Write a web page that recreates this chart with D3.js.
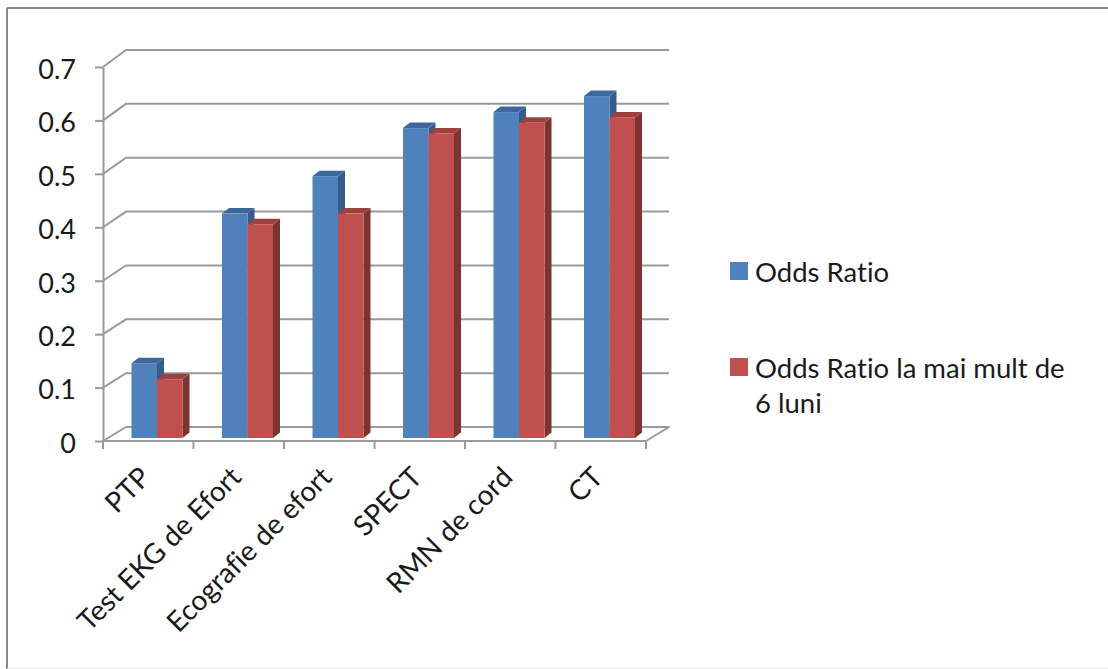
<!DOCTYPE html>
<html>
<head>
<meta charset="utf-8">
<script src="https://cdn.jsdelivr.net/npm/d3@7"></script>
<style>
  html, body { margin: 0; padding: 0; background: #fff; }
  svg { display: block; font-family: Lato, "Open Sans", sans-serif; font-variant-ligatures: none; }
</style>
</head>
<body>
<svg id="chart" width="1108" height="669"></svg>
<script>
// Categories (diagnostic tests) and the two Odds Ratio series
const categories = ["PTP", "Test EKG de Efort", "Ecografie de efort", "SPECT", "RMN de cord", "CT"];
const oddsRatio = [0.14, 0.42, 0.49, 0.58, 0.61, 0.64];
const oddsRatio6Luni = [0.11, 0.40, 0.42, 0.57, 0.59, 0.60];
const seriesNames = ["Odds Ratio", "Odds Ratio la mai mult de 6 luni"];
const yTicks = [0, 0.1, 0.2, 0.3, 0.4, 0.5, 0.6, 0.7];

const colors = [
  { front: "#4F81BD", side: "#365C8B", top: "#3E689C" },
  { front: "#C0504D", side: "#7E3331", top: "#9E403D" }
];
const gridColor = "#9a9a9a";
const textColor = "#1a1a1a";

const svg = d3.select("#chart");

// Front plane scales
const y = d3.scaleLinear().domain([0, 0.7]).range([441, 67]);
// Back wall: same values, pushed back in depth
const yBack = d3.scaleLinear().domain([0, 0.7]).range([427, 50]);
const depthX = 23;
const x = d3.scaleBand().domain(categories).range([103, 646]);
const xSeries = d3.scaleBand().domain([0, 1]).range([24.5, 75.5]);

// Bars sit slightly behind the front plane and have their own depth
const barShift = { dx: 4, dy: -3 };
const barDepth = { dx: 7, dy: -5.5 };

// Outer chart border
svg.append("line").attr("x1", 7).attr("y1", 8).attr("x2", 1108).attr("y2", 8)
  .attr("stroke", "#878787").attr("stroke-width", 2);
svg.append("line").attr("x1", 7).attr("y1", 8).attr("x2", 7).attr("y2", 669)
  .attr("stroke", "#878787").attr("stroke-width", 2);
svg.append("line").attr("x1", 7).attr("y1", 668.5).attr("x2", 1108).attr("y2", 668.5)
  .attr("stroke", "#e6e6e6").attr("stroke-width", 1);

const grid = svg.append("g").attr("fill", "none").attr("stroke", gridColor).attr("stroke-width", 2);

// Floor
const x0 = x.range()[0], x1 = x.range()[1];
grid.append("path")
  .attr("d", `M${x0},${y(0)}L${x1},${y(0)}L${x1 + depthX},${yBack(0)}L${x0 + depthX},${yBack(0)}Z`)
  .attr("stroke-linejoin", "round");

// Side-wall diagonals and back-wall gridlines
yTicks.filter(v => v > 0).forEach(v => {
  grid.append("path")
    .attr("d", `M${x0},${y(v)}L${x0 + depthX},${yBack(v)}L${x1 + depthX},${yBack(v)}`);
});

// Value axis
const yAxis = d3.axisLeft(y)
  .tickValues(yTicks)
  .tickSize(8)
  .tickSizeOuter(0)
  .tickPadding(19)
  .tickFormat(d => d === 0 ? "0" : d.toFixed(1));
const yg = svg.append("g").attr("transform", `translate(${x0},0)`).call(yAxis);
yg.select(".domain").attr("stroke", gridColor).attr("stroke-width", 2);
yg.selectAll(".tick line").attr("stroke", gridColor).attr("stroke-width", 2);
yg.selectAll(".tick text")
  .attr("font-family", "Lato, sans-serif")
  .attr("font-size", 27)
  .attr("fill", textColor)
  .attr("dy", "0.42em");

// Category boundary ticks on the floor edge
const bounds = categories.map(c => x(c)).concat([x1]);
svg.append("g").selectAll("line").data(bounds).join("line")
  .attr("x1", d => d).attr("x2", d => d)
  .attr("y1", y(0)).attr("y2", y(0) + 8)
  .attr("stroke", gridColor).attr("stroke-width", 2);

// 3D bars
const barsG = svg.append("g");
categories.forEach((c, i) => {
  [oddsRatio[i], oddsRatio6Luni[i]].forEach((v, s) => {
    const col = colors[s];
    const bx = x(c) + xSeries(s) + barShift.dx;
    const bw = xSeries.bandwidth();
    const by = y(v) + barShift.dy;
    const bb = y(0) + barShift.dy;
    const g = barsG.append("g");
    // side face
    g.append("path")
      .attr("d", `M${bx + bw},${by}L${bx + bw + barDepth.dx},${by + barDepth.dy}L${bx + bw + barDepth.dx},${bb + barDepth.dy}L${bx + bw},${bb}Z`)
      .attr("fill", col.side);
    // top face
    g.append("path")
      .attr("d", `M${bx},${by}L${bx + barDepth.dx},${by + barDepth.dy}L${bx + bw + barDepth.dx},${by + barDepth.dy}L${bx + bw},${by}Z`)
      .attr("fill", col.top);
    // front face
    g.append("rect")
      .attr("x", bx).attr("y", by)
      .attr("width", bw).attr("height", bb - by)
      .attr("fill", col.front);
  });
});

// Rotated category labels
svg.append("g").selectAll("text").data(categories).join("text")
  .attr("transform", d => `translate(${x(d) + x.bandwidth() / 2 + 4},${y(0) + 38}) rotate(-45)`)
  .attr("text-anchor", "end")
  .attr("font-size", 28)
  .attr("fill", textColor)
  .text(d => d);

// Legend
const legend = svg.append("g");
const legendRows = [
  { y: 262, lines: ["Odds Ratio"] },
  { y: 358, lines: ["Odds Ratio la mai mult de", "6 luni"] }
];
legendRows.forEach((r, i) => {
  legend.append("rect").attr("x", 730).attr("y", r.y).attr("width", 18).attr("height", 18)
    .attr("fill", colors[i].front);
  const t = legend.append("text").attr("x", 755).attr("y", r.y + 20)
    .attr("font-size", 27.5).attr("fill", textColor)
    .attr("aria-label", seriesNames[i]);
  r.lines.forEach((ln, k) => {
    t.append("tspan").attr("x", 755).attr("dy", k === 0 ? 0 : 35).text(ln);
  });
});
</script>
</body>
</html>
